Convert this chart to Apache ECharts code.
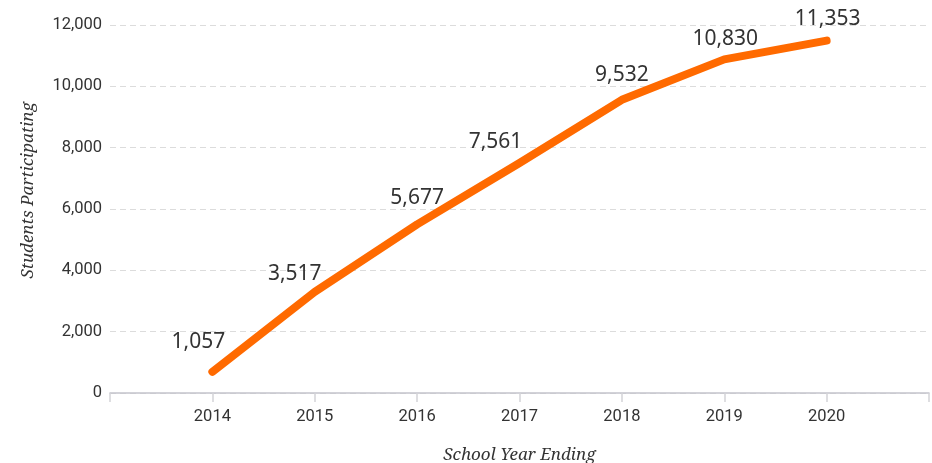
<!DOCTYPE html>
<html>
<head>
<meta charset="utf-8">
<script src="https://cdn.jsdelivr.net/npm/echarts@6/dist/echarts.min.js"></script>
<style>
html,body{margin:0;padding:0;background:#fff;}
#chart{width:932px;height:463px;}
</style>
</head>
<body>
<div id="chart"></div>
<script>
const years = [2014, 2015, 2016, 2017, 2018, 2019, 2020];
const plottedValues = [690, 3300, 5500, 7500, 9560, 10880, 11490];
const labelTexts = ['1,057', '3,517', '5,677', '7,561', '9,532', '10,830', '11,353'];
const yTicks = [0, 2000, 4000, 6000, 8000, 10000, 12000];
const labelOffsets = [[-14, -5], [-20, 7], [0, -1], [-24, 4], [0, 0], [1, 5], [1, 3]];

const chart = echarts.init(document.getElementById('chart'));
const tickFont = '"Roboto", sans-serif';
const serifName = '"Noto Serif", serif';
chart.setOption({
  animation: false,
  grid: { left: 110, right: 3, top: 25, bottom: 70, containLabel: false, outerBoundsMode: 'none' },
  xAxis: {
    type: 'value', min: 2013, max: 2021, interval: 1,
    axisLine: { show: true, lineStyle: { color: '#c4c4cc', width: 1.5 } },
    axisTick: { show: true, length: 9, lineStyle: { color: '#d4d4d8', width: 1.5 } },
    splitLine: { show: false },
    axisLabel: {
      margin: 15,
      fontFamily: tickFont, fontSize: 16.5, color: '#333',
      formatter: v => (years.indexOf(v) >= 0 ? String(v) : '')
    },
    name: 'School Year Ending', nameLocation: 'middle', nameGap: 54,
    nameTextStyle: { fontFamily: serifName, fontStyle: 'italic', fontSize: 17, color: '#333' }
  },
  yAxis: {
    type: 'value', min: yTicks[0], max: yTicks[yTicks.length - 1], interval: 2000,
    axisLine: { show: false }, axisTick: { show: false },
    splitLine: { show: true, lineStyle: { color: '#dcdcdc', type: [6, 4], width: 1 } },
    axisLabel: {
      margin: 8,
      fontFamily: tickFont, fontSize: 16.5, color: '#333',
      formatter: v => v.toLocaleString('en-US')
    }
  },
  graphic: [{
    type: 'text', left: 20, top: 102, rotation: Math.PI / 2,
    style: { text: 'Students Participating', font: 'italic 17px "Noto Serif", serif', fill: '#333' }
  }],
  series: [{
    type: 'line',
    data: years.map((y, i) => ({
      value: [y, plottedValues[i]],
      label: { offset: labelOffsets[i] }
    })),
    symbol: 'circle', symbolSize: 1, showSymbol: true,
    itemStyle: { color: 'rgba(0,0,0,0)' },
    lineStyle: { color: '#ff6a00', width: 8, cap: 'round', join: 'round' },
    label: {
      show: true, position: 'top', distance: 14,
      fontFamily: '"Noto Sans", sans-serif', fontSize: 21, color: '#333',
      formatter: p => labelTexts[p.dataIndex]
    }
  }]
});
</script>
</body>
</html>
